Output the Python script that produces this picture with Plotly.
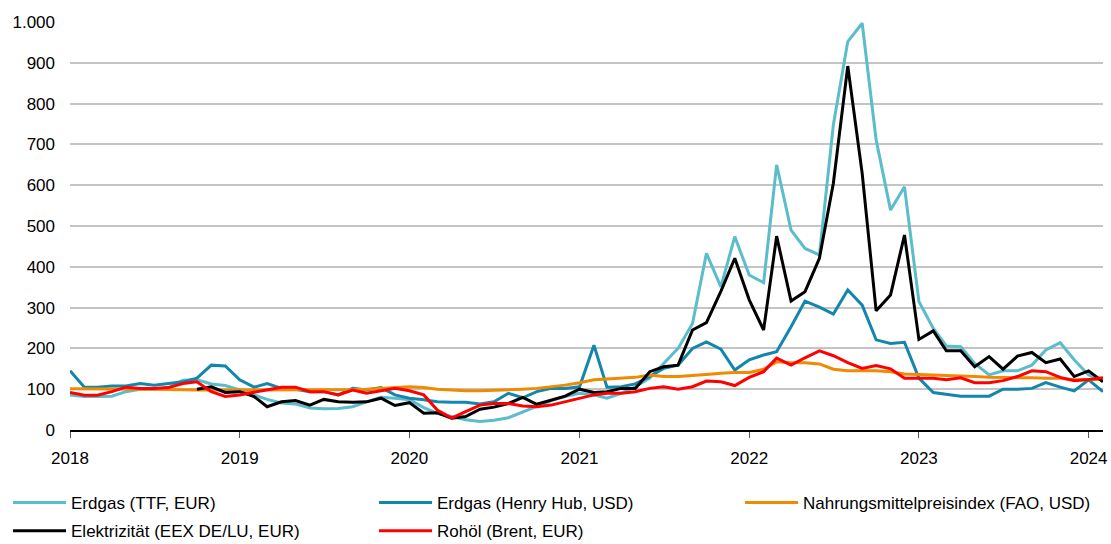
import pandas as pd
import plotly.graph_objects as go

months = pd.date_range("2018-01-01", "2024-02-01", freq="MS")

ttf = [86, 82, 82, 83, 94, 100, 100, 104, 122, 123, 113, 109,
       98, 86, 75, 66, 64, 54, 52, 53, 57, 69, 80, 78,
       74, 55, 41, 33, 25, 21, 24, 30, 45, 58, 72, 82,
       90, 86, 78, 90, 106, 127, 163, 200, 261, 433, 351, 474,
       380, 361, 650, 490, 445, 429, 748, 952, 997, 711, 539, 596,
       315, 249, 206, 204, 163, 135, 145, 145, 159, 196, 214, 172,
       135, 123]

henry_hub = [145, 105, 105, 108, 108, 114, 110, 114, 118, 127, 159, 157,
             123, 105, 114, 102, 100, 94, 94, 86, 102, 98, 104, 86,
             78, 74, 69, 68, 68, 64, 69, 90, 79, 94, 102, 102,
             106, 208, 105, 106, 113, 131, 151, 159, 200, 216, 198, 147,
             172, 184, 192, 253, 316, 301, 284, 343, 306, 221, 212, 215,
             127, 92, 88, 83, 83, 83, 100, 100, 102, 116, 105, 96,
             123, 94]

fao = [101, 101, 101, 101, 101, 100, 100, 99, 98, 98, 98, 98,
       98, 98, 98, 98, 98, 98, 98, 98, 99, 100, 102, 104,
       106, 104, 100, 98, 96, 96, 97, 98, 100, 102, 106, 110,
       116, 123, 125, 127, 129, 135, 131, 131, 133, 136, 139, 141,
       141, 149, 167, 165, 165, 162, 149, 145, 145, 145, 143, 137,
       136, 135, 133, 133, 131, 129, 129, 128, 128, 127, 127, 123,
       124, 124]

eex = [None, None, None, None, None, None, None, None, None, 100, 106, 92,
       94, 82, 57, 69, 72, 61, 75, 69, 68, 69, 78, 60,
       67, 41, 42, 29, 33, 51, 56, 65, 80, 63, 74, 83,
       100, 92, 94, 102, 102, 143, 155, 159, 245, 263, 340, 421,
       319, 245, 475, 316, 339, 421, 605, 892, 629, 292, 331, 478,
       222, 243, 194, 194, 155, 180, 149, 181, 190, 165, 174, 131,
       145, 118]

brent = [92, 85, 85, 94, 105, 102, 102, 104, 114, 118, 94, 82,
         86, 92, 98, 105, 105, 94, 94, 86, 98, 90, 96, 102,
         96, 86, 49, 29, 45, 61, 65, 65, 59, 57, 61, 69,
         78, 86, 90, 90, 94, 102, 106, 100, 106, 120, 118, 109,
         129, 143, 176, 159, 177, 194, 182, 165, 151, 158, 150, 127,
         127, 127, 123, 128, 116, 116, 121, 131, 145, 143, 129, 121,
         124, 128]

series = [
    ("Erdgas (TTF, EUR)", ttf, "#5bbccc", "legend"),
    ("Erdgas (Henry Hub, USD)", henry_hub, "#1386ad", "legend"),
    ("Nahrungsmittelpreisindex (FAO, USD)", fao, "#f08a00", "legend"),
    ("Elektrizität (EEX DE/LU, EUR)", eex, "#000000", "legend2"),
    ("Rohöl (Brent, EUR)", brent, "#ff0000", "legend2"),
]

FONT = "Liberation Sans, Arial, sans-serif"
FS = 17

fig = go.Figure()
for name, vals, color, leg in series:
    fig.add_trace(go.Scatter(
        x=months, y=vals, name=name, mode="lines",
        line=dict(color=color, width=3), connectgaps=False,
        legend=leg,
    ))

legend_common = dict(
    orientation="h", xanchor="left", yanchor="middle",
    entrywidth=298, entrywidthmode="pixels", itemwidth=53,
    font=dict(family=FONT, size=FS, color="#000000"),
    traceorder="normal", bgcolor="rgba(0,0,0,0)",
)

fig.update_layout(
    width=1111, height=544,
    margin=dict(l=70, r=8, t=22, b=114, autoexpand=False),
    paper_bgcolor="white", plot_bgcolor="white",
    font=dict(family=FONT, size=FS, color="#000000"),
    separators=",.",
    showlegend=True,
    legend=dict(x=-0.060, y=-0.179, **legend_common),
    legend2=dict(x=-0.060, y=-0.248, **legend_common),
)

fig.update_xaxes(
    type="date",
    range=["2018-01-01", "2024-02-01"],
    dtick="M12", tick0="2018-01-01", tickformat="%Y",
    showgrid=False, showline=True, linecolor="#000000", linewidth=1.5,
    ticks="outside", ticklen=6, tickwidth=1, tickcolor="#555555",
    tickfont=dict(family=FONT, size=FS),
    ticklabeloverflow="allow", ticklabelstandoff=6,
    zeroline=False,
)
fig.update_yaxes(
    range=[0, 1000], dtick=100, tickformat=",d",
    showgrid=True, gridcolor="#c4c4c4", gridwidth=1.5,
    showline=False, zeroline=False, ticks="",
    tickfont=dict(family=FONT, size=FS),
    ticklabelstandoff=14,
)

fig.write_html(
    "out.html",
    config={"displayModeBar": False},
    post_script="document.body.style.margin='0';document.body.style.overflow='hidden';",
)
